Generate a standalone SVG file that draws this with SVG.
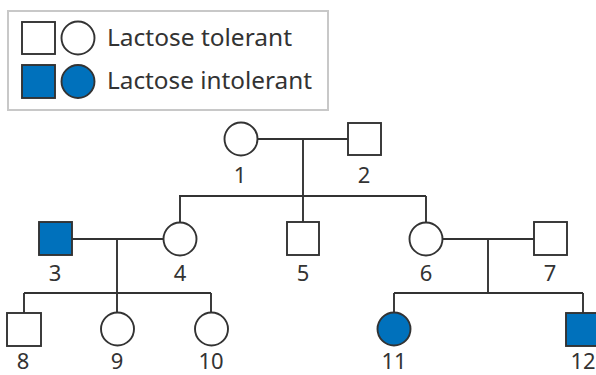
<svg xmlns="http://www.w3.org/2000/svg" width="596" height="375" viewBox="0 0 596 375">
<style>
.n{fill:#fff;stroke:#333;stroke-width:1.9}
.a{fill:#0071bc;stroke:#333;stroke-width:1.9}
.c{fill:none;stroke:#333;stroke-width:1.9}
.lg{font-family:"Noto Sans",Lato,sans-serif;font-size:23px;fill:#333}
.lb{font-family:"Noto Sans",Lato,sans-serif;font-size:22px;fill:#333;text-anchor:middle}
</style>
<rect width="596" height="375" fill="#fff"/>
<g id="legend">
<rect x="8" y="11" width="320" height="99" fill="#fff" stroke="#c8c8c8" stroke-width="2"/>
<rect class="n" x="22" y="22" width="33" height="32"/>
<circle class="n" cx="78" cy="38" r="16.5"/>
<text class="lg" x="107" y="46" textLength="185" lengthAdjust="spacingAndGlyphs">Lactose tolerant</text>
<rect class="a" x="22" y="65" width="33" height="33"/>
<circle class="a" cx="78" cy="81.5" r="16.5"/>
<text class="lg" x="107" y="89" textLength="205" lengthAdjust="spacingAndGlyphs">Lactose intolerant</text>
</g>
<g id="connectors">
<path class="c" d="M257 139H348M303 139V196M179 196H426M180 196V222.5M303 196V222M426 196V222.5"/>
<path class="c" d="M72 239H163.5M117 239V293M24 293H211M24 293V313M117 293V312.5M211 293V312.5"/>
<path class="c" d="M442.5 239H534M488 239V293M394 293H583M394 293V312.5M583 293V313"/>
</g>
<g id="n1"><circle class="n" cx="241" cy="139" r="16.5"/><text class="lb" x="240" y="183">1</text></g>
<g id="n2"><rect class="n" x="348" y="123" width="33" height="32"/><text class="lb" x="364" y="183">2</text></g>
<g id="n3"><rect class="a" x="39" y="222" width="33" height="33"/><text class="lb" x="55" y="281">3</text></g>
<g id="n4"><circle class="n" cx="180" cy="239" r="16.5"/><text class="lb" x="180" y="281">4</text></g>
<g id="n5"><rect class="n" x="287" y="222" width="32" height="33"/><text class="lb" x="303" y="281">5</text></g>
<g id="n6"><circle class="n" cx="426" cy="239" r="16.5"/><text class="lb" x="426" y="281">6</text></g>
<g id="n7"><rect class="n" x="534" y="222" width="33" height="33"/><text class="lb" x="550" y="281">7</text></g>
<g id="n8"><rect class="n" x="7" y="313" width="34" height="33"/><text class="lb" x="23" y="369">8</text></g>
<g id="n9"><circle class="n" cx="117.5" cy="329" r="16.5"/><text class="lb" x="117" y="369">9</text></g>
<g id="n10"><circle class="n" cx="211.5" cy="329" r="16.5"/><text class="lb" x="211" y="369">10</text></g>
<g id="n11"><circle class="a" cx="394" cy="329" r="16.5"/><text class="lb" x="394" y="369">11</text></g>
<g id="n12"><rect class="a" x="566" y="313" width="34" height="33"/><text class="lb" x="583" y="369">12</text></g>
</svg>
